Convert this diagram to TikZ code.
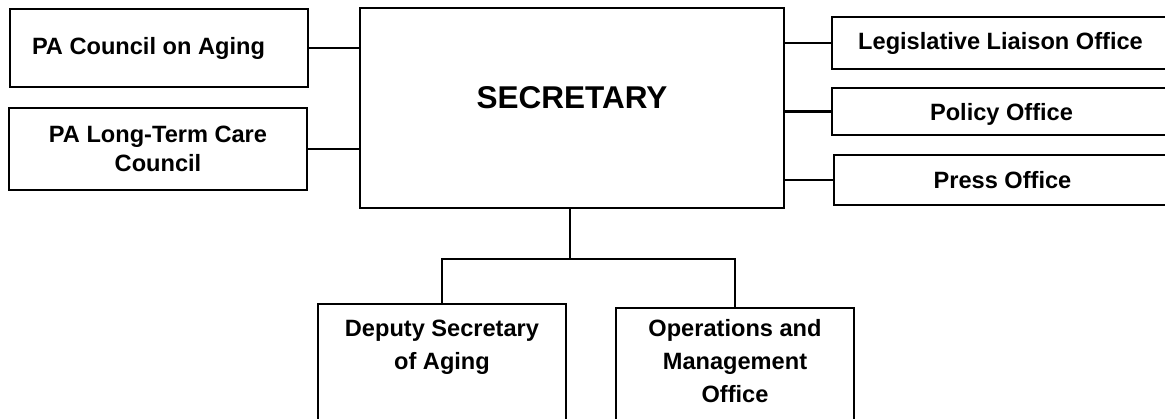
\documentclass[tikz,border=0pt]{standalone}
\usepackage{fontspec}
\setmainfont{Liberation Sans}

\begin{document}
\begin{tikzpicture}[x=1pt, y=-1pt,
    office/.style={draw, line width=2.2pt, inner sep=0pt, align=center,
      font=\bfseries\fontsize{23.6}{29}\selectfont},
    lower/.style={anchor=north, text depth=150pt,
      font=\bfseries\fontsize{23.6}{33}\selectfont},
    link/.style={line width=2.2pt}]
    \path[use as bounding box, clip] (0,0) rectangle (1165,418);
    % left councils
    \node[office, minimum width=298pt, minimum height=78pt, text width=254pt,
          inner xsep=22pt, align=flush left] (council) at (159,48) {PA Council on Aging};
    \node[office, minimum width=298pt, minimum height=82pt] (ltc) at (158,149)
          {PA Long-Term Care\\Council};
    % secretary
    \node[office, minimum width=424pt, minimum height=200pt, text depth=21pt,
          font=\bfseries\fontsize{31.5}{38}\selectfont] (sec) at (572,108) {SECRETARY};
    % right offices
    \node[office, minimum width=337pt, minimum height=52pt] (legis) at (1000.5,43)
          {Legislative Liaison Office};
    \node[office, minimum width=339pt, minimum height=47pt, text depth=0pt] (policy)
          at (1001.5,111.5) {Policy Office};
    \node[office, minimum width=337pt, minimum height=50pt] (press) at (1002.5,180)
          {Press Office};
    % lower offices
    \node[office, lower, minimum width=248pt, inner ysep=16pt] (deputy) at (442,303)
          {Deputy Secretary\\of Aging};
    \node[office, lower, minimum width=238pt, inner ysep=11pt] (ops) at (735,307)
          {Operations and\\Management\\Office};
    % connectors
    \draw[link] (council.east) -- (council.east -| sec.west);
    \draw[link] (ltc.east) -- (ltc.east -| sec.west);
    \foreach \n in {legis,policy,press}
        \draw[link] (\n.west) -- (\n.west -| sec.east);
    \coordinate (bus) at (570,259);
    \draw[link] (sec.south -| bus) -- (bus);
    \draw[link] (deputy.north) |- (bus) -| (ops.north);
\end{tikzpicture}
\end{document}
